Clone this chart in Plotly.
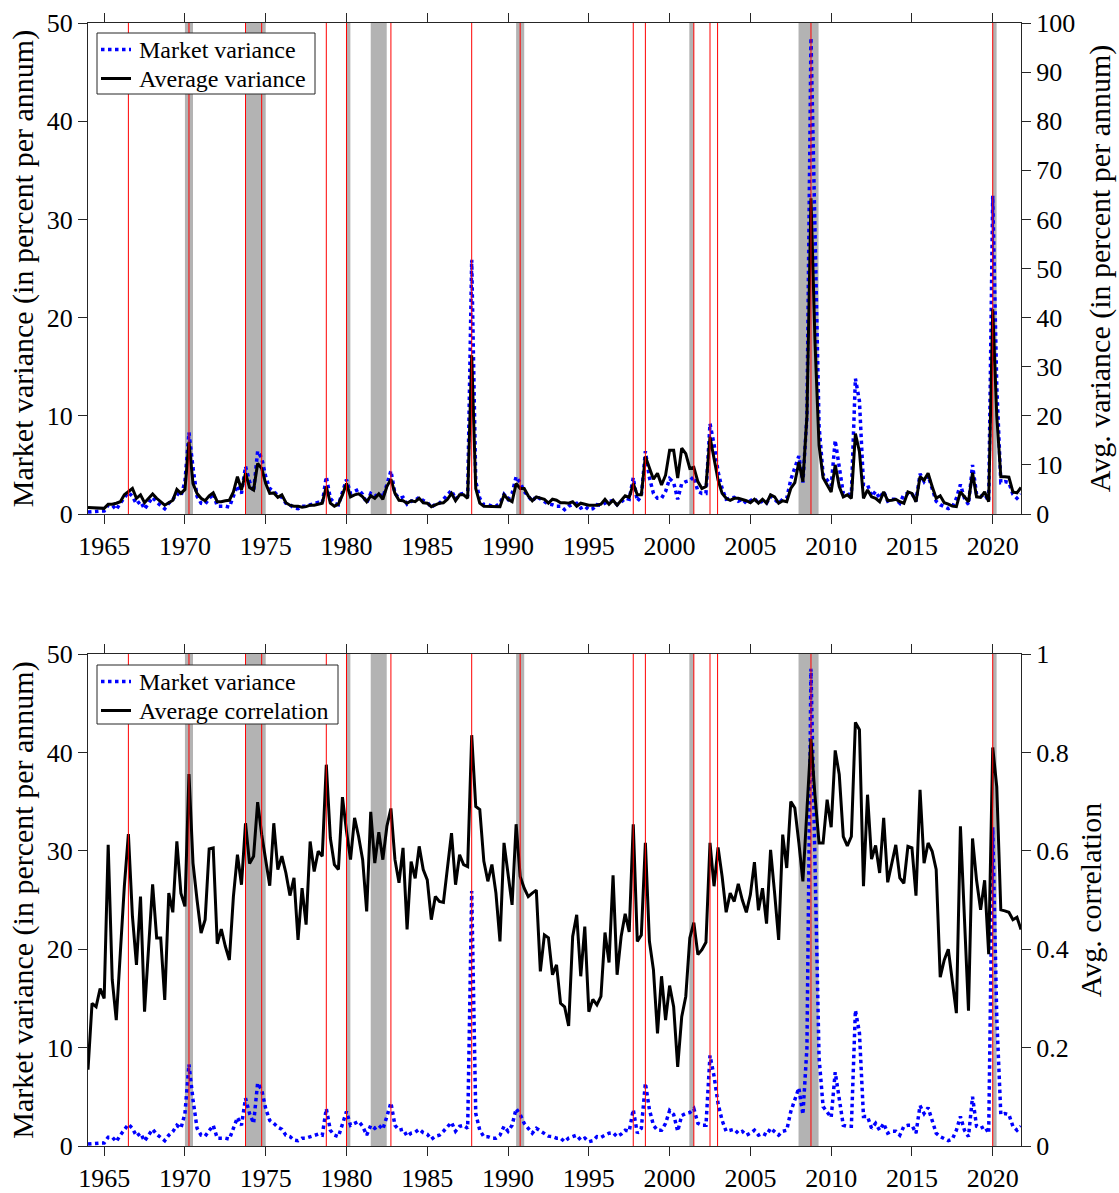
import plotly.graph_objects as go

START_YEAR = 1964.0

market_variance = [
    0.2, 0.25, 0.3, 0.3,
    0.3, 0.9, 0.9, 0.44,
    1.1, 1.6, 2.2, 1.8,
    1.0, 1.3, 0.5, 1.1,
    1.7, 1.2, 0.85, 0.54,
    1.1, 1.46, 2.1, 1.8,
    3.3, 8.3, 4.7, 1.8,
    1.1, 1.0, 1.56, 2.1,
    0.8, 0.8, 0.8, 0.7,
    1.7, 2.9, 2.1, 4.85,
    3.3, 2.3, 6.4, 5.7,
    3.8, 2.6, 2.3, 1.9,
    1.7, 1.1, 0.95, 0.6,
    0.54, 0.8, 0.8, 0.95,
    1.1, 1.2, 1.1, 3.8,
    1.6, 1.1, 0.95, 2.3,
    3.5, 2.1, 2.3, 2.5,
    2.0, 1.1, 2.1, 1.8,
    2.1, 1.7, 3.0, 4.4,
    2.1, 1.6, 1.7, 1.0,
    1.3, 1.4, 1.7, 1.36,
    1.2, 0.68, 1.0, 1.1,
    1.5, 1.9, 2.4, 1.5,
    2.0, 2.1, 1.8, 25.9,
    3.3, 1.6, 0.95, 0.95,
    0.8, 0.8, 1.1, 2.0,
    1.5, 2.1, 3.8, 3.2,
    2.3, 1.8, 1.3, 1.8,
    1.5, 1.3, 1.0, 0.95,
    0.8, 0.8, 0.44, 0.8,
    0.95, 1.1, 0.6, 0.8,
    0.44, 0.54, 0.95, 0.88,
    1.1, 1.3, 1.36, 0.95,
    1.2, 1.6, 1.5, 3.7,
    1.3, 1.8, 6.4, 3.7,
    2.1, 1.6, 1.6, 2.3,
    3.6, 3.2, 1.5, 3.1,
    3.3, 3.4, 3.8, 2.3,
    2.1, 2.1, 9.2, 7.1,
    4.3, 2.6, 1.5, 1.6,
    1.7, 1.3, 1.5, 1.1,
    1.3, 1.6, 1.1, 1.3,
    1.1, 1.8, 1.5, 1.1,
    1.5, 1.6, 3.5, 4.7,
    5.9, 3.2, 10.0, 48.5,
    28.0, 9.0, 4.0, 3.5,
    2.9, 7.5, 5.0, 2.1,
    2.0, 2.0, 13.8, 11.5,
    3.0, 3.0, 1.8, 2.3,
    1.6, 2.3, 1.3, 1.5,
    1.5, 1.1, 2.0, 2.1,
    2.1, 1.3, 4.1, 3.3,
    3.9, 2.6, 1.3, 0.95,
    0.7, 0.54, 0.7, 1.6,
    3.0, 1.6, 0.95, 5.0,
    2.0, 1.8, 2.0, 1.3,
    32.4, 13.0, 3.2, 3.3,
    3.2, 2.0, 1.6, 2.0,
]

average_variance = [
    1.3, 1.3, 1.15, 1.15,
    1.15, 2.0, 2.0, 2.2,
    2.5, 3.9, 4.5, 5.2,
    3.2, 3.9, 2.3, 3.2,
    4.1, 3.2, 2.5, 1.8,
    2.3, 2.8, 5.0, 4.2,
    5.0, 14.7, 6.2, 4.2,
    3.2, 2.7, 3.7, 4.3,
    2.5, 2.5, 2.7, 2.8,
    4.5, 7.6, 4.9, 8.3,
    5.4, 4.9, 10.3, 9.3,
    6.2, 4.2, 4.3, 3.4,
    3.9, 2.3, 1.8, 1.6,
    1.6, 1.4, 1.5, 1.8,
    1.8, 2.0, 2.2, 5.6,
    2.2, 1.6, 2.0, 3.9,
    6.2, 3.5, 3.9, 4.1,
    3.5, 2.5, 3.7, 3.2,
    4.1, 3.0, 5.6, 7.1,
    4.2, 2.8, 2.7, 2.2,
    2.7, 2.5, 3.2, 2.3,
    2.2, 1.5, 1.8, 2.2,
    2.3, 3.0, 4.2, 2.7,
    3.9, 3.9, 3.2, 32.3,
    5.2, 2.2, 1.6, 1.6,
    1.6, 1.6, 1.5, 3.9,
    3.0, 2.5, 6.2, 5.2,
    5.2, 3.7, 2.7, 3.5,
    3.2, 3.0, 2.2, 3.0,
    2.8, 2.3, 2.3, 2.2,
    2.5, 1.6, 2.2, 2.0,
    1.8, 1.8, 1.8, 2.0,
    3.0, 2.0, 2.8, 1.8,
    2.7, 3.7, 3.4, 6.2,
    3.9, 3.9, 11.7, 9.5,
    7.1, 8.3, 5.9, 7.9,
    13.0, 13.0, 7.3, 13.4,
    12.3, 9.3, 9.5, 6.6,
    5.2, 5.6, 15.7, 11.3,
    6.9, 4.2, 3.2, 2.8,
    3.2, 3.2, 3.0, 2.7,
    2.3, 3.0, 2.2, 3.0,
    2.2, 3.9, 3.5, 2.2,
    2.7, 2.5, 5.2, 6.4,
    10.6, 6.6, 20.0, 64.3,
    35.0, 14.0, 7.4, 6.0,
    4.5, 10.0, 5.6, 3.5,
    3.9, 3.2, 16.4, 12.7,
    3.2, 4.9, 3.5, 3.2,
    2.5, 4.5, 2.7, 2.8,
    3.0, 2.5, 2.2, 4.5,
    4.2, 2.5, 7.6, 6.9,
    8.3, 5.6, 3.2, 3.7,
    2.3, 2.0, 1.6, 1.5,
    4.5, 3.5, 2.5, 8.4,
    3.5, 3.4, 4.5, 2.5,
    41.7, 20.0, 7.6, 7.6,
    7.5, 4.5, 4.3, 5.4,
]

average_correlation = [
    0.155, 0.29, 0.283, 0.32,
    0.30, 0.612, 0.338, 0.256,
    0.392, 0.528, 0.634, 0.467,
    0.368, 0.507, 0.273, 0.406,
    0.532, 0.423, 0.423, 0.297,
    0.514, 0.475, 0.619, 0.514,
    0.487, 0.756, 0.575, 0.5,
    0.433, 0.46, 0.604, 0.606,
    0.411, 0.441, 0.406, 0.378,
    0.507, 0.592, 0.531, 0.656,
    0.574, 0.589, 0.699, 0.633,
    0.578, 0.529, 0.656, 0.562,
    0.589, 0.555, 0.509, 0.545,
    0.419, 0.524, 0.45, 0.619,
    0.558, 0.599, 0.589, 0.775,
    0.626, 0.572, 0.562, 0.709,
    0.64, 0.582, 0.667, 0.629,
    0.582, 0.477, 0.679, 0.575,
    0.638, 0.582, 0.65, 0.686,
    0.582, 0.535, 0.606, 0.44,
    0.578, 0.544, 0.609, 0.562,
    0.541, 0.46, 0.507, 0.497,
    0.495, 0.562, 0.636, 0.531,
    0.592, 0.572, 0.568, 0.835,
    0.69, 0.684, 0.579, 0.538,
    0.572, 0.514, 0.416, 0.616,
    0.555, 0.49, 0.654, 0.548,
    0.524, 0.507, 0.514, 0.52,
    0.355, 0.429, 0.423, 0.348,
    0.368, 0.29, 0.283, 0.244,
    0.426, 0.47, 0.345, 0.446,
    0.273, 0.298, 0.287, 0.304,
    0.434, 0.373, 0.55, 0.348,
    0.426, 0.472, 0.435, 0.654,
    0.416, 0.429, 0.616, 0.416,
    0.358, 0.229, 0.345, 0.256,
    0.326, 0.283, 0.161, 0.263,
    0.304, 0.423, 0.454, 0.389,
    0.399, 0.414, 0.616, 0.528,
    0.607, 0.548, 0.475, 0.514,
    0.497, 0.533, 0.5, 0.475,
    0.511, 0.577, 0.479, 0.524,
    0.452, 0.602, 0.514, 0.419,
    0.633, 0.565, 0.70, 0.687,
    0.616, 0.538, 0.683, 0.827,
    0.711, 0.616, 0.616, 0.704,
    0.648, 0.804, 0.755, 0.629,
    0.61, 0.629, 0.861, 0.846,
    0.528, 0.714, 0.583, 0.611,
    0.555, 0.667, 0.536, 0.575,
    0.612, 0.545, 0.534, 0.609,
    0.606, 0.509, 0.724, 0.575,
    0.616, 0.599, 0.562, 0.343,
    0.378, 0.40, 0.33, 0.27,
    0.65, 0.46, 0.275, 0.625,
    0.54, 0.48, 0.54, 0.39,
    0.81, 0.73, 0.48, 0.478,
    0.475, 0.46, 0.465, 0.44,
]

recession_starts = [1970.0, 1973.75, 1979.97, 1981.5, 1990.5, 2001.22, 2007.98, 2019.99]
recession_ends = [1970.5, 1975.0, 1980.24, 1982.49, 1991.0, 2001.5, 2009.22, 2020.24]
event_dates = [1966.5, 1970.25, 1973.75, 1974.75, 1978.75, 1980.0, 1982.75, 1987.75,
               1990.75, 1997.75, 1998.5, 2001.5, 2002.5, 2002.97, 2008.75, 2020.0]
year_ticks = [1965, 1970, 1975, 1980, 1985, 1990, 1995, 2000, 2005, 2010, 2015, 2020]

top_legend_labels = ["Market variance", "Average variance"]
bottom_legend_labels = ["Market variance", "Average correlation"]

quarters = [START_YEAR + 0.25 * i for i in range(len(market_variance))]

# ---------------- styling / layout ----------------
W, H = 1119, 1193
ML, MR, MT, MB = 88, 98, 23, 47
PW, PH = W - ML - MR, H - MT - MB

FONT = "Liberation Serif, Times New Roman, serif"
AXCOL = "#262626"
BLUE = "#0000ff"
TICKFONT = dict(family=FONT, size=26, color="black")
TITLEFONT = dict(family=FONT, size=30, color="black")
LEGFONT = dict(family=FONT, size=24, color="black")


def px_x(px):
    return (px - ML) / PW


def px_y(py):
    return (H - MB - py) / PH


fig = go.Figure()
fig.add_trace(go.Scatter(x=quarters, y=market_variance, xaxis="x", yaxis="y",
                         mode="lines", name=top_legend_labels[0], showlegend=False,
                         line=dict(color=BLUE, width=3.5, dash="dot")))
fig.add_trace(go.Scatter(x=quarters, y=average_variance, xaxis="x", yaxis="y2",
                         mode="lines", name=top_legend_labels[1], showlegend=False,
                         line=dict(color="black", width=3)))
fig.add_trace(go.Scatter(x=quarters, y=market_variance, xaxis="x2", yaxis="y3",
                         mode="lines", name=bottom_legend_labels[0], showlegend=False,
                         line=dict(color=BLUE, width=3.5, dash="dot")))
fig.add_trace(go.Scatter(x=quarters, y=average_correlation, xaxis="x2", yaxis="y4",
                         mode="lines", name=bottom_legend_labels[1], showlegend=False,
                         line=dict(color="black", width=3)))

shapes = []
for xa, ya in (("x", "y"), ("x2", "y3")):
    for s, e in zip(recession_starts, recession_ends):
        shapes.append(dict(type="rect", xref=xa, yref=ya + " domain", x0=s, x1=e, y0=0, y1=1,
                           fillcolor="#b3b3b3", line=dict(width=0), layer="below"))
    for d in event_dates:
        shapes.append(dict(type="line", xref=xa, yref=ya + " domain", x0=d, x1=d, y0=0, y1=1,
                           line=dict(color="red", width=1), layer="above"))

# hand-built legend boxes (to match the compact reference legend)
annotations = []
for labels, box in ((top_legend_labels, (97, 33, 315, 94)),
                    (bottom_legend_labels, (97, 665, 338, 724))):
    bx0, by0, bx1, by1 = box
    shapes.append(dict(type="rect", xref="paper", yref="paper",
                       x0=px_x(bx0), x1=px_x(bx1), y0=px_y(by1), y1=px_y(by0),
                       fillcolor="white", line=dict(color=AXCOL, width=1), layer="above"))
    rows = [by0 + 16.5, by0 + 45.5]
    styles = [dict(color=BLUE, width=3.5, dash="dot"), dict(color="black", width=3)]
    for lab, ry, st in zip(labels, rows, styles):
        shapes.append(dict(type="line", xref="paper", yref="paper",
                           x0=px_x(bx0 + 4), x1=px_x(bx0 + 34), y0=px_y(ry), y1=px_y(ry),
                           line=st, layer="above"))
        annotations.append(dict(xref="paper", yref="paper", x=px_x(bx0 + 40), y=px_y(ry),
                                text=lab, showarrow=False, xanchor="left", yanchor="middle",
                                font=LEGFONT))

xcommon = dict(range=[START_YEAR, quarters[-1]], tickvals=year_ticks, ticks="outside",
               ticklen=9, tickcolor=AXCOL, showline=True, linecolor=AXCOL, linewidth=1,
               mirror="ticks", showgrid=False, zeroline=False, tickfont=TICKFONT,
               automargin=False)
ycommon = dict(ticks="outside", ticklen=9, tickcolor=AXCOL, showline=True, linecolor=AXCOL,
               linewidth=1, showgrid=False, zeroline=False, tickfont=TICKFONT,
               automargin=False)

top_dom = [px_y(514), 1.0]
bot_dom = [0.0, px_y(654)]

fig.update_layout(
    width=W, height=H,
    margin=dict(l=ML, r=MR, t=MT, b=MB, autoexpand=False),
    paper_bgcolor="white", plot_bgcolor="white",
    xaxis=dict(domain=[0, 1], anchor="y", **xcommon),
    yaxis=dict(domain=top_dom, anchor="x", range=[0, 50], dtick=10,
               title=dict(text="Market variance (in percent per annum)", font=TITLEFONT, standoff=4),
               **ycommon),
    yaxis2=dict(overlaying="y", side="right", anchor="x", range=[0, 100], dtick=10,
                title=dict(text="Avg. variance (in percent per annum)", font=TITLEFONT, standoff=14),
                **ycommon),
    xaxis2=dict(domain=[0, 1], anchor="y3", **xcommon),
    yaxis3=dict(domain=bot_dom, anchor="x2", range=[0, 50], dtick=10,
                title=dict(text="Market variance (in percent per annum)", font=TITLEFONT, standoff=4),
                **ycommon),
    yaxis4=dict(overlaying="y3", side="right", anchor="x2", range=[0, 1], dtick=0.2,
                title=dict(text="Avg. correlation", font=TITLEFONT, standoff=12),
                **ycommon),
    shapes=shapes,
    annotations=annotations,
    showlegend=False,
)

fig.write_html("out.html",
               config={"displayModeBar": False},
               post_script="document.body.style.margin='0px';document.body.style.padding='0px';")
